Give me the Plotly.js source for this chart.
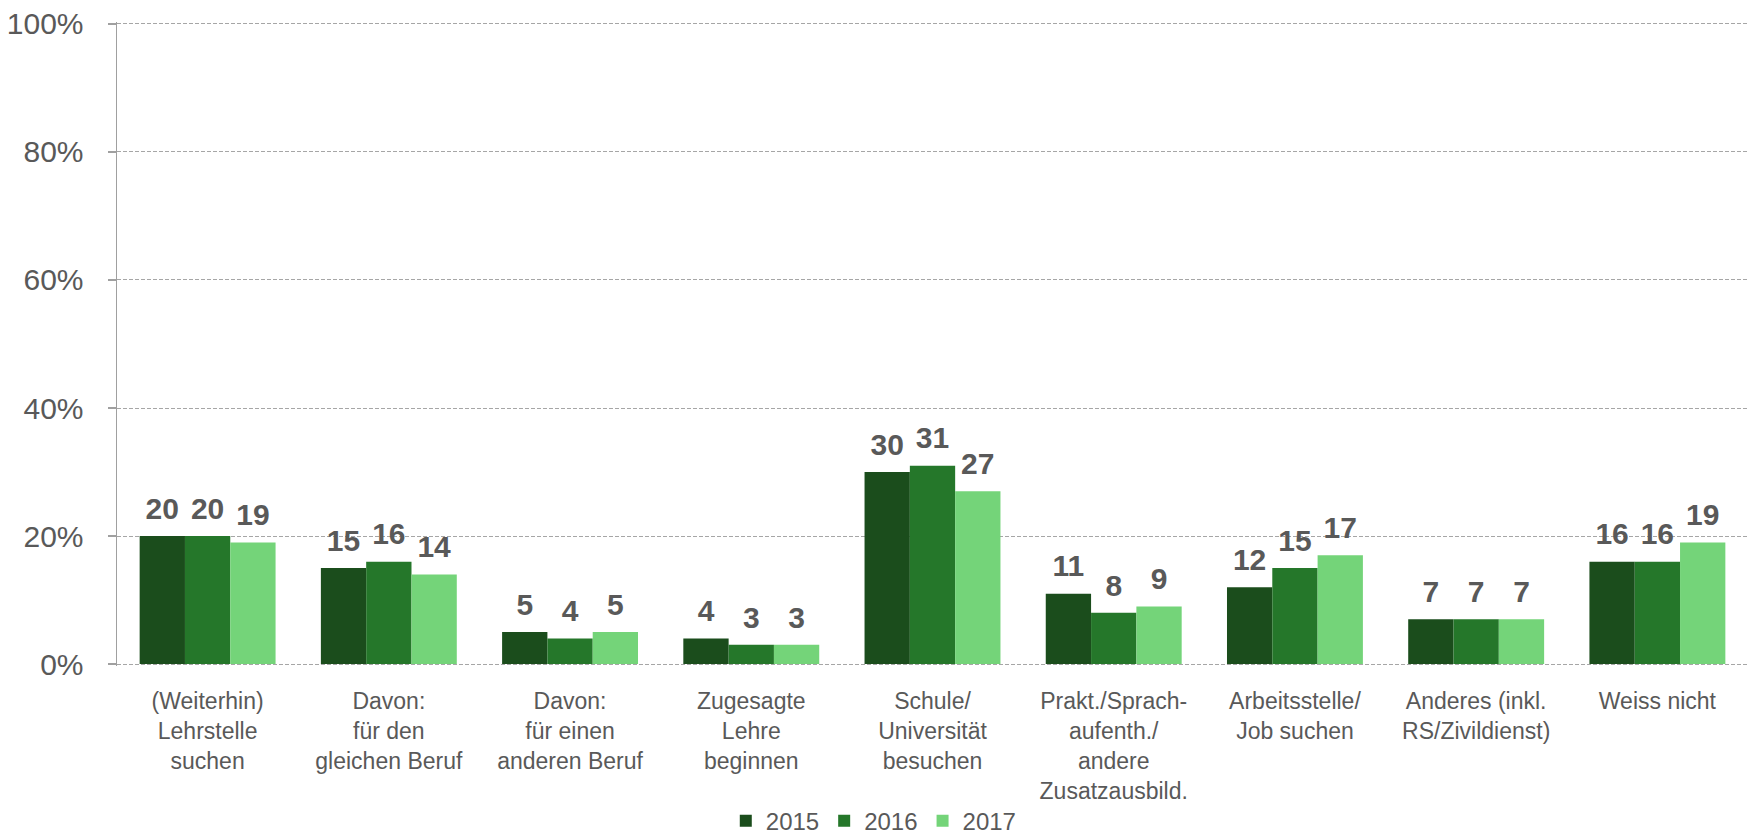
<!DOCTYPE html>
<html>
<head>
<meta charset="utf-8">
<script src="https://cdn.plot.ly/plotly-3.0.1.min.js"></script>
<style>html,body{margin:0;padding:0;background:#fff;}#chart{width:1754px;height:834px;}</style>
</head>
<body>
<div id="chart"></div>
<script>
const categories = [
  "(Weiterhin)<br>Lehrstelle<br>suchen",
  "Davon:<br>für den<br>gleichen Beruf",
  "Davon:<br>für einen<br>anderen Beruf",
  "Zugesagte<br>Lehre<br>beginnen",
  "Schule/<br>Universität<br>besuchen",
  "Prakt./Sprach-<br>aufenth./<br>andere<br>Zusatzausbild.",
  "Arbeitsstelle/<br>Job suchen",
  "Anderes (inkl.<br>RS/Zivildienst)",
  "Weiss nicht"
];
const years = ["2015", "2016", "2017"];
const values2015 = [20, 15, 5, 4, 30, 11, 12, 7, 16];
const values2016 = [20, 16, 4, 3, 31, 8, 15, 7, 16];
const values2017 = [19, 14, 5, 3, 27, 9, 17, 7, 19];
const yTickVals = [0, 20, 40, 60, 80, 100];
const yTickText = ["0%", "20%", "40%", "60%", "80%", "100%"];

const series = [values2015, values2016, values2017];
const colors = ["#1B4D1C", "#25772A", "#74D479"];
const FONT = "'Liberation Sans', Arial, sans-serif";
const labelColor = "#595959";

const traces = [];
series.forEach((vals, i) => {
  traces.push({
    type: "bar", name: years[i], x: categories, y: vals,
    marker: {color: colors[i]}, hoverinfo: "skip"
  });
});
series.forEach((vals, i) => {
  traces.push({
    type: "scatter", mode: "markers+text", x: categories, y: vals,
    text: vals.map(String), textposition: "top center",
    textfont: {family: FONT, size: 30, color: labelColor, weight: "bold"},
    marker: {size: 14, opacity: 0, color: colors[i]},
    showlegend: false, hoverinfo: "skip", cliponaxis: false
  });
});

const layout = {
  width: 1754, height: 834,
  margin: {l: 117, r: 6, t: 22, b: 168, autoexpand: false},
  paper_bgcolor: "#fff", plot_bgcolor: "#fff",
  font: {family: FONT, color: labelColor},
  barmode: "group", bargap: 0.25, bargroupgap: 0,
  scattermode: "group", scattergap: 0.25,
  showlegend: true,
  legend: {orientation: "h", x: 0.464, xanchor: "center", y: -0.241, yanchor: "middle",
           font: {family: FONT, size: 24, color: labelColor}, itemwidth: 30, tracegroupgap: 0},
  xaxis: {
    type: "category", showgrid: false, showline: false, zeroline: false, ticks: "",
    automargin: false,
    tickfont: {family: FONT, size: 23, color: labelColor}, ticklabelstandoff: 19
  },
  yaxis: {
    range: [-0.3, 100.3], tickvals: yTickVals, ticktext: yTickText, automargin: false,
    showgrid: true, gridcolor: "#A6A6A6", griddash: "4px,2px", gridwidth: 1,
    zeroline: false, showline: true, linecolor: "#A0A0A0", linewidth: 1.5,
    ticks: "outside", ticklen: 8, tickcolor: "#A0A0A0", tickwidth: 1.5,
    tickfont: {family: FONT, size: 30, color: labelColor}, ticklabelstandoff: 18
  }
};

Plotly.newPlot("chart", traces, layout, {displayModeBar: false, staticPlot: true});
</script>
</body>
</html>
